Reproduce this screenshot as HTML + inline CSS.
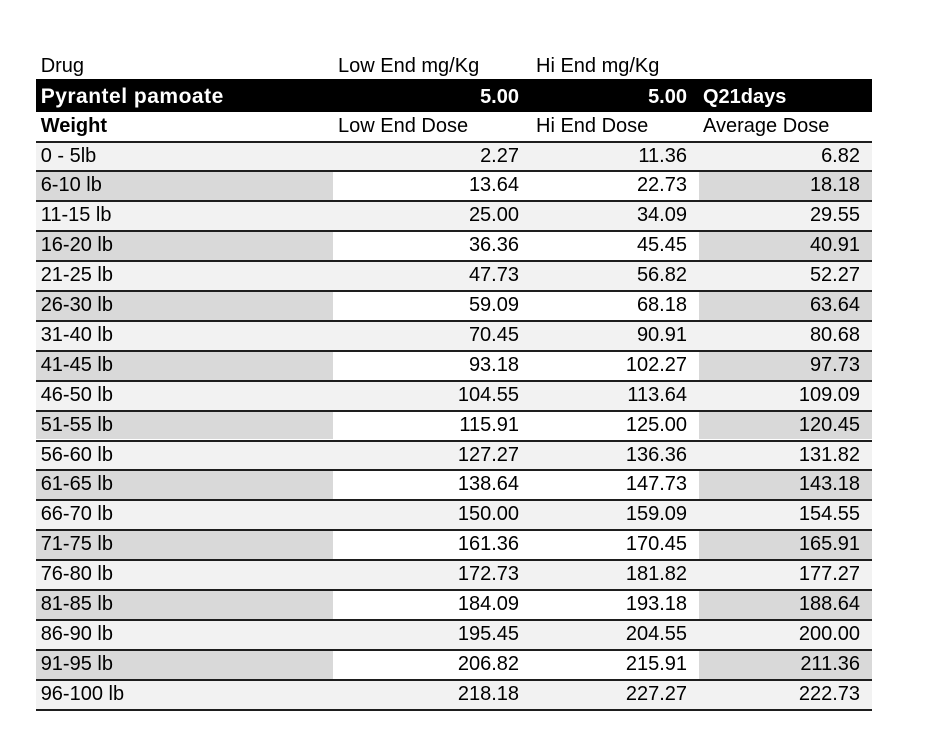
<!DOCTYPE html>
<html><head><meta charset="utf-8"><style>
html,body{margin:0;padding:0;background:#fff}
body{width:926px;height:746px;position:relative;overflow:hidden;font-family:"Liberation Sans",Arial,sans-serif;color:#000}
.x{position:absolute;font-size:20px;line-height:20px;white-space:nowrap}
.bar{position:absolute;left:36px;top:79px;width:836px;height:33px;background:#000}
.w{color:#fff;font-weight:bold}
.r{position:absolute;left:36px;width:836px;height:29.9px;box-sizing:border-box;border-top:2px solid #1e1e1e;background:#f2f2f2}
.r.e{background:linear-gradient(to right,#d9d9d9 0,#d9d9d9 297px,#fff 297px,#fff 663px,#d9d9d9 663px,#d9d9d9 836px)}
.c{position:absolute;top:3px;font-size:20px;line-height:20px;white-space:nowrap}
.a{left:4.7px}
.b{right:353px;text-align:right}
.d{right:185px;text-align:right}
.f{right:12px;text-align:right}
.end{position:absolute;left:36px;width:836px;top:708.6px;height:2px;background:#1e1e1e}
</style></head><body>
<div class="x" style="left:40.7px;top:56.3px">Drug</div>
<div class="x" style="left:338px;top:56.3px">Low End mg/Kg</div>
<div class="x" style="left:536px;top:56.3px">Hi End mg/Kg</div>

<div class="bar"></div>
<div class="x w" style="left:40.7px;top:86.2px;font-size:21px;line-height:21px;letter-spacing:0.5px">Pyrantel pamoate</div>
<div class="x w" style="right:407px;top:86.5px">5.00</div>
<div class="x w" style="right:239px;top:86.5px">5.00</div>
<div class="x w" style="left:703px;top:86.5px">Q21days</div>

<div class="x" style="left:40.7px;top:116.3px;font-weight:bold">Weight</div>
<div class="x" style="left:338px;top:116.3px">Low End Dose</div>
<div class="x" style="left:536px;top:116.3px">Hi End Dose</div>
<div class="x" style="left:703px;top:116.3px">Average Dose</div>

<div class="r" style="top:140.5px"><span class="c a">0 - 5lb</span><span class="c b">2.27</span><span class="c d">11.36</span><span class="c f">6.82</span></div>
<div class="r e" style="top:170.4px"><span class="c a">6-10 lb</span><span class="c b">13.64</span><span class="c d">22.73</span><span class="c f">18.18</span></div>
<div class="r" style="top:200.3px"><span class="c a">11-15 lb</span><span class="c b">25.00</span><span class="c d">34.09</span><span class="c f">29.55</span></div>
<div class="r e" style="top:230.2px"><span class="c a">16-20 lb</span><span class="c b">36.36</span><span class="c d">45.45</span><span class="c f">40.91</span></div>
<div class="r" style="top:260.1px"><span class="c a">21-25 lb</span><span class="c b">47.73</span><span class="c d">56.82</span><span class="c f">52.27</span></div>
<div class="r e" style="top:290.0px"><span class="c a">26-30 lb</span><span class="c b">59.09</span><span class="c d">68.18</span><span class="c f">63.64</span></div>
<div class="r" style="top:319.9px"><span class="c a">31-40 lb</span><span class="c b">70.45</span><span class="c d">90.91</span><span class="c f">80.68</span></div>
<div class="r e" style="top:349.8px"><span class="c a">41-45 lb</span><span class="c b">93.18</span><span class="c d">102.27</span><span class="c f">97.73</span></div>
<div class="r" style="top:379.7px"><span class="c a">46-50 lb</span><span class="c b">104.55</span><span class="c d">113.64</span><span class="c f">109.09</span></div>
<div class="r e" style="top:409.6px"><span class="c a">51-55 lb</span><span class="c b">115.91</span><span class="c d">125.00</span><span class="c f">120.45</span></div>
<div class="r" style="top:439.5px"><span class="c a">56-60 lb</span><span class="c b">127.27</span><span class="c d">136.36</span><span class="c f">131.82</span></div>
<div class="r e" style="top:469.4px"><span class="c a">61-65 lb</span><span class="c b">138.64</span><span class="c d">147.73</span><span class="c f">143.18</span></div>
<div class="r" style="top:499.3px"><span class="c a">66-70 lb</span><span class="c b">150.00</span><span class="c d">159.09</span><span class="c f">154.55</span></div>
<div class="r e" style="top:529.2px"><span class="c a">71-75 lb</span><span class="c b">161.36</span><span class="c d">170.45</span><span class="c f">165.91</span></div>
<div class="r" style="top:559.1px"><span class="c a">76-80 lb</span><span class="c b">172.73</span><span class="c d">181.82</span><span class="c f">177.27</span></div>
<div class="r e" style="top:589.0px"><span class="c a">81-85 lb</span><span class="c b">184.09</span><span class="c d">193.18</span><span class="c f">188.64</span></div>
<div class="r" style="top:618.9px"><span class="c a">86-90 lb</span><span class="c b">195.45</span><span class="c d">204.55</span><span class="c f">200.00</span></div>
<div class="r e" style="top:648.8px"><span class="c a">91-95 lb</span><span class="c b">206.82</span><span class="c d">215.91</span><span class="c f">211.36</span></div>
<div class="r" style="top:678.7px"><span class="c a">96-100 lb</span><span class="c b">218.18</span><span class="c d">227.27</span><span class="c f">222.73</span></div>
<div class="end"></div>
</body></html>
